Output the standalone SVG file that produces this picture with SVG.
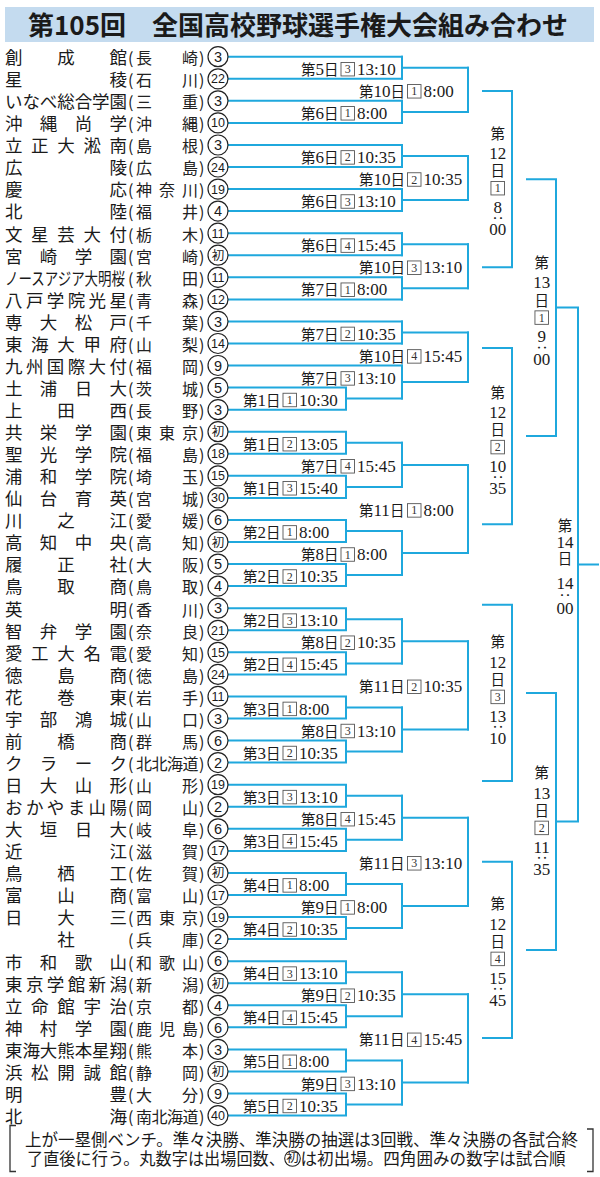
<svg xmlns="http://www.w3.org/2000/svg" width="600" height="1177" viewBox="0 0 600 1177">
<style>
.tm{font-family:"Noto Sans CJK JP",sans-serif;font-size:17.5px;fill:#1a1a1a}
.pf{font-family:"Noto Sans CJK JP",sans-serif;font-size:16px;fill:#222}
.cc{fill:#fff;stroke:#222;stroke-width:1.2}
.cn{font-family:"Liberation Sans",sans-serif;font-size:14.5px;text-anchor:middle;fill:#1a1a1a}
.cn2{font-family:"Liberation Sans",sans-serif;font-size:12.5px;text-anchor:middle;fill:#1a1a1a}
.ch{font-family:"Noto Sans CJK JP",sans-serif;font-size:12.5px;text-anchor:middle;fill:#1a1a1a}
.ln{fill:none;stroke:#1FA8DD;stroke-width:2;stroke-linecap:square}
.k{font-family:"Noto Sans CJK JP",sans-serif;font-size:14.5px;fill:#1a1a1a}
.d{font-family:"Liberation Serif",serif;font-size:17px;fill:#1a1a1a}
.bx{fill:#fff;stroke:#555;stroke-width:0.9}
.bd{font-family:"Liberation Serif",serif;font-size:12px;text-anchor:middle;fill:#333}
.v{text-anchor:middle}
.ft{font-family:"Noto Sans CJK JP",sans-serif;font-size:16.5px;fill:#1a1a1a}
.br{fill:none;stroke:#333;stroke-width:1.3}
</style>

<g id="title">
<rect x="5" y="7" width="589" height="35" fill="#C4DBEF"/>
<text x="28" y="35" font-family="Noto Sans CJK JP, sans-serif" font-weight="bold" font-size="26" fill="#1a1a1a" textLength="540" lengthAdjust="spacingAndGlyphs">第105回　全国高校野球選手権大会組み合わせ</text>
</g>

<g id="connectors" class="ln">
<path d="M228 56.7H402M228 78.8H402M228 100.8H402M228 122.9H402M228 145H402M228 167H402M228 189.1H402M228 211.1H402M228 233.2H402M228 255.2H402M228 277.3H402M228 299.4H402M228 321.4H402M228 343.5H402M228 365.5H402"/>
<path d="M228 387.6H346V409.7H228M346 398.6H402M228 431.7H346V453.8H228M346 442.8H402M228 475.8H346V497.9H228M346 486.9H402M228 519.9H346V542H228M346 531H402M228 564.1H346V586.1H228M346 575.1H402M228 608.2H346V630.3H228M346 619.2H402M228 652.3H346V674.4H228M346 663.4H402M228 696.4H346V718.5H228M346 707.5H402M228 740.6H346V762.6H228M346 751.6H402M228 784.7H346V806.7H228M346 795.7H402M228 828.8H346V850.9H228M346 839.8H402M228 872.9H346V895H228M346 884H402M228 917H346V939.1H228M346 928.1H402M228 961.2H346V983.2H228M346 972.2H402M228 1005.3H346V1027.3H228M346 1016.3H402M228 1049.4H346V1071.5H228M346 1060.4H402M228 1093.5H346V1115.6H228M346 1104.6H402"/>
<path d="M402 56.7V78.8M402 67.8H468M402 100.8V122.9M402 111.9H468M402 145V167M402 156H468M402 189.1V211.1M402 200.1H468M402 233.2V255.2M402 244.2H468M402 277.3V299.4M402 288.3H468M402 321.4V343.5M402 332.5H468M402 365.5V398.6M402 382.1H468M402 442.8V486.9M402 464.9H468M402 531V575.1M402 553.1H468M402 619.2V663.4M402 641.3H468M402 707.5V751.6M402 729.6H468M402 795.7V839.8M402 817.8H468M402 884V928.1M402 906H468M402 972.2V1016.3M402 994.3H468M402 1060.4V1104.6M402 1082.5H468"/>
<path d="M468 67.8V111.9M468 156V200.1M468 244.2V288.3M468 332.5V382.1M468 464.9V553.1M468 641.3V729.6M468 817.8V906M468 994.3V1082.5"/>
<path d="M483 91H512V267.3H483M483 347.9H512V524.2H483M483 604.8H512V781.1H483M483 861.7H512V1038H483"/>
<path d="M527 179.2H556V436.1H527M527 692.9H556V949.9H527"/>
<path d="M556 307.6H578V821.4H556M578 564.5H598"/>
</g>

<g id="teams">
<g id="team-0" transform="translate(0,56.7)"><text class="tm" x="5 57.25 109.5" y="7.3">創成館</text><text class="pf" x="128 136 182 199" y="7.3">(長崎)</text><circle class="cc" cx="218" r="10"/><text class="cn" x="218" y="5.2">3</text></g>
<g id="team-1" transform="translate(0,78.8)"><text class="tm" x="5 109.5" y="7.3">星稜</text><text class="pf" x="128 136 182 199" y="7.3">(石川)</text><circle class="cc" cx="218" r="10"/><text class="cn2" x="218" y="4.5">22</text></g>
<g id="team-2" transform="translate(0,100.8)"><text class="tm" x="5 22.4 39.8 57.3 74.7 92.1 109.5" y="7.3">いなべ総合学園</text><text class="pf" x="128 136 182 199" y="7.3">(三重)</text><circle class="cc" cx="218" r="10"/><text class="cn" x="218" y="5.2">3</text></g>
<g id="team-3" transform="translate(0,122.9)"><text class="tm" x="5 39.8 74.7 109.5" y="7.3">沖縄尚学</text><text class="pf" x="128 136 182 199" y="7.3">(沖縄)</text><circle class="cc" cx="218" r="10"/><text class="cn2" x="218" y="4.5">10</text></g>
<g id="team-4" transform="translate(0,145)"><text class="tm" x="5 31.1 57.3 83.4 109.5" y="7.3">立正大淞南</text><text class="pf" x="128 136 182 199" y="7.3">(島根)</text><circle class="cc" cx="218" r="10"/><text class="cn" x="218" y="5.2">3</text></g>
<g id="team-5" transform="translate(0,167)"><text class="tm" x="5 109.5" y="7.3">広陵</text><text class="pf" x="128 136 182 199" y="7.3">(広島)</text><circle class="cc" cx="218" r="10"/><text class="cn2" x="218" y="4.5">24</text></g>
<g id="team-6" transform="translate(0,189.1)"><text class="tm" x="5 109.5" y="7.3">慶応</text><text class="pf" x="128 136 159 182 199" y="7.3">(神奈川)</text><circle class="cc" cx="218" r="10"/><text class="cn2" x="218" y="4.5">19</text></g>
<g id="team-7" transform="translate(0,211.1)"><text class="tm" x="5 109.5" y="7.3">北陸</text><text class="pf" x="128 136 182 199" y="7.3">(福井)</text><circle class="cc" cx="218" r="10"/><text class="cn" x="218" y="5.2">4</text></g>
<g id="team-8" transform="translate(0,233.2)"><text class="tm" x="5 31.1 57.3 83.4 109.5" y="7.3">文星芸大付</text><text class="pf" x="128 136 182 199" y="7.3">(栃木)</text><circle class="cc" cx="218" r="10"/><text class="cn2" x="218" y="4.5">11</text></g>
<g id="team-9" transform="translate(0,255.2)"><text class="tm" x="5 39.8 74.7 109.5" y="7.3">宮崎学園</text><text class="pf" x="128 136 182 199" y="7.3">(宮崎)</text><circle class="cc" cx="218" r="10"/><text class="ch" x="218" y="4.5">初</text></g>
<g id="team-10" transform="translate(0,277.3)"><text class="tm" transform="translate(5 0) scale(0.77 1)" x="0" y="7.3">ノースアジア大明桜</text><text class="pf" x="128 136 182 199" y="7.3">(秋田)</text><circle class="cc" cx="218" r="10"/><text class="cn2" x="218" y="4.5">11</text></g>
<g id="team-11" transform="translate(0,299.4)"><text class="tm" x="5 25.9 46.8 67.7 88.6 109.5" y="7.3">八戸学院光星</text><text class="pf" x="128 136 182 199" y="7.3">(青森)</text><circle class="cc" cx="218" r="10"/><text class="cn2" x="218" y="4.5">12</text></g>
<g id="team-12" transform="translate(0,321.4)"><text class="tm" x="5 39.8 74.7 109.5" y="7.3">専大松戸</text><text class="pf" x="128 136 182 199" y="7.3">(千葉)</text><circle class="cc" cx="218" r="10"/><text class="cn" x="218" y="5.2">3</text></g>
<g id="team-13" transform="translate(0,343.5)"><text class="tm" x="5 31.1 57.3 83.4 109.5" y="7.3">東海大甲府</text><text class="pf" x="128 136 182 199" y="7.3">(山梨)</text><circle class="cc" cx="218" r="10"/><text class="cn2" x="218" y="4.5">14</text></g>
<g id="team-14" transform="translate(0,365.5)"><text class="tm" x="5 25.9 46.8 67.7 88.6 109.5" y="7.3">九州国際大付</text><text class="pf" x="128 136 182 199" y="7.3">(福岡)</text><circle class="cc" cx="218" r="10"/><text class="cn" x="218" y="5.2">9</text></g>
<g id="team-15" transform="translate(0,387.6)"><text class="tm" x="5 39.8 74.7 109.5" y="7.3">土浦日大</text><text class="pf" x="128 136 182 199" y="7.3">(茨城)</text><circle class="cc" cx="218" r="10"/><text class="cn" x="218" y="5.2">5</text></g>
<g id="team-16" transform="translate(0,409.7)"><text class="tm" x="5 57.25 109.5" y="7.3">上田西</text><text class="pf" x="128 136 182 199" y="7.3">(長野)</text><circle class="cc" cx="218" r="10"/><text class="cn" x="218" y="5.2">3</text></g>
<g id="team-17" transform="translate(0,431.7)"><text class="tm" x="5 39.8 74.7 109.5" y="7.3">共栄学園</text><text class="pf" x="128 136 159 182 199" y="7.3">(東東京)</text><circle class="cc" cx="218" r="10"/><text class="ch" x="218" y="4.5">初</text></g>
<g id="team-18" transform="translate(0,453.8)"><text class="tm" x="5 39.8 74.7 109.5" y="7.3">聖光学院</text><text class="pf" x="128 136 182 199" y="7.3">(福島)</text><circle class="cc" cx="218" r="10"/><text class="cn2" x="218" y="4.5">18</text></g>
<g id="team-19" transform="translate(0,475.8)"><text class="tm" x="5 39.8 74.7 109.5" y="7.3">浦和学院</text><text class="pf" x="128 136 182 199" y="7.3">(埼玉)</text><circle class="cc" cx="218" r="10"/><text class="cn2" x="218" y="4.5">15</text></g>
<g id="team-20" transform="translate(0,497.9)"><text class="tm" x="5 39.8 74.7 109.5" y="7.3">仙台育英</text><text class="pf" x="128 136 182 199" y="7.3">(宮城)</text><circle class="cc" cx="218" r="10"/><text class="cn2" x="218" y="4.5">30</text></g>
<g id="team-21" transform="translate(0,519.9)"><text class="tm" x="5 57.25 109.5" y="7.3">川之江</text><text class="pf" x="128 136 182 199" y="7.3">(愛媛)</text><circle class="cc" cx="218" r="10"/><text class="cn" x="218" y="5.2">6</text></g>
<g id="team-22" transform="translate(0,542)"><text class="tm" x="5 39.8 74.7 109.5" y="7.3">高知中央</text><text class="pf" x="128 136 182 199" y="7.3">(高知)</text><circle class="cc" cx="218" r="10"/><text class="ch" x="218" y="4.5">初</text></g>
<g id="team-23" transform="translate(0,564.1)"><text class="tm" x="5 57.25 109.5" y="7.3">履正社</text><text class="pf" x="128 136 182 199" y="7.3">(大阪)</text><circle class="cc" cx="218" r="10"/><text class="cn" x="218" y="5.2">5</text></g>
<g id="team-24" transform="translate(0,586.1)"><text class="tm" x="5 57.25 109.5" y="7.3">鳥取商</text><text class="pf" x="128 136 182 199" y="7.3">(鳥取)</text><circle class="cc" cx="218" r="10"/><text class="cn" x="218" y="5.2">4</text></g>
<g id="team-25" transform="translate(0,608.2)"><text class="tm" x="5 109.5" y="7.3">英明</text><text class="pf" x="128 136 182 199" y="7.3">(香川)</text><circle class="cc" cx="218" r="10"/><text class="cn" x="218" y="5.2">3</text></g>
<g id="team-26" transform="translate(0,630.3)"><text class="tm" x="5 39.8 74.7 109.5" y="7.3">智弁学園</text><text class="pf" x="128 136 182 199" y="7.3">(奈良)</text><circle class="cc" cx="218" r="10"/><text class="cn2" x="218" y="4.5">21</text></g>
<g id="team-27" transform="translate(0,652.3)"><text class="tm" x="5 31.1 57.3 83.4 109.5" y="7.3">愛工大名電</text><text class="pf" x="128 136 182 199" y="7.3">(愛知)</text><circle class="cc" cx="218" r="10"/><text class="cn2" x="218" y="4.5">15</text></g>
<g id="team-28" transform="translate(0,674.4)"><text class="tm" x="5 57.25 109.5" y="7.3">徳島商</text><text class="pf" x="128 136 182 199" y="7.3">(徳島)</text><circle class="cc" cx="218" r="10"/><text class="cn2" x="218" y="4.5">24</text></g>
<g id="team-29" transform="translate(0,696.4)"><text class="tm" x="5 57.25 109.5" y="7.3">花巻東</text><text class="pf" x="128 136 182 199" y="7.3">(岩手)</text><circle class="cc" cx="218" r="10"/><text class="cn2" x="218" y="4.5">11</text></g>
<g id="team-30" transform="translate(0,718.5)"><text class="tm" x="5 39.8 74.7 109.5" y="7.3">宇部鴻城</text><text class="pf" x="128 136 182 199" y="7.3">(山口)</text><circle class="cc" cx="218" r="10"/><text class="cn" x="218" y="5.2">3</text></g>
<g id="team-31" transform="translate(0,740.6)"><text class="tm" x="5 57.25 109.5" y="7.3">前橋商</text><text class="pf" x="128 136 182 199" y="7.3">(群馬)</text><circle class="cc" cx="218" r="10"/><text class="cn" x="218" y="5.2">6</text></g>
<g id="team-32" transform="translate(0,762.6)"><text class="tm" x="5 39.8 74.7 109.5" y="7.3">クラーク</text><text class="pf" x="128 136 151.5 167 182.5 199" y="7.3">(北北海道)</text><circle class="cc" cx="218" r="10"/><text class="cn" x="218" y="5.2">2</text></g>
<g id="team-33" transform="translate(0,784.7)"><text class="tm" x="5 39.8 74.7 109.5" y="7.3">日大山形</text><text class="pf" x="128 136 182 199" y="7.3">(山形)</text><circle class="cc" cx="218" r="10"/><text class="cn2" x="218" y="4.5">19</text></g>
<g id="team-34" transform="translate(0,806.7)"><text class="tm" x="5 25.9 46.8 67.7 88.6 109.5" y="7.3">おかやま山陽</text><text class="pf" x="128 136 182 199" y="7.3">(岡山)</text><circle class="cc" cx="218" r="10"/><text class="cn" x="218" y="5.2">2</text></g>
<g id="team-35" transform="translate(0,828.8)"><text class="tm" x="5 39.8 74.7 109.5" y="7.3">大垣日大</text><text class="pf" x="128 136 182 199" y="7.3">(岐阜)</text><circle class="cc" cx="218" r="10"/><text class="cn" x="218" y="5.2">6</text></g>
<g id="team-36" transform="translate(0,850.9)"><text class="tm" x="5 109.5" y="7.3">近江</text><text class="pf" x="128 136 182 199" y="7.3">(滋賀)</text><circle class="cc" cx="218" r="10"/><text class="cn2" x="218" y="4.5">17</text></g>
<g id="team-37" transform="translate(0,872.9)"><text class="tm" x="5 57.25 109.5" y="7.3">鳥栖工</text><text class="pf" x="128 136 182 199" y="7.3">(佐賀)</text><circle class="cc" cx="218" r="10"/><text class="ch" x="218" y="4.5">初</text></g>
<g id="team-38" transform="translate(0,895)"><text class="tm" x="5 57.25 109.5" y="7.3">富山商</text><text class="pf" x="128 136 182 199" y="7.3">(富山)</text><circle class="cc" cx="218" r="10"/><text class="cn2" x="218" y="4.5">17</text></g>
<g id="team-39" transform="translate(0,917)"><text class="tm" x="5 57.25 109.5" y="7.3">日大三</text><text class="pf" x="128 136 159 182 199" y="7.3">(西東京)</text><circle class="cc" cx="218" r="10"/><text class="cn2" x="218" y="4.5">19</text></g>
<g id="team-40" transform="translate(0,939.1)"><text class="tm" x="57.25" y="7.3">社</text><text class="pf" x="128 136 182 199" y="7.3">(兵庫)</text><circle class="cc" cx="218" r="10"/><text class="cn" x="218" y="5.2">2</text></g>
<g id="team-41" transform="translate(0,961.2)"><text class="tm" x="5 39.8 74.7 109.5" y="7.3">市和歌山</text><text class="pf" x="128 136 159 182 199" y="7.3">(和歌山)</text><circle class="cc" cx="218" r="10"/><text class="cn" x="218" y="5.2">6</text></g>
<g id="team-42" transform="translate(0,983.2)"><text class="tm" x="5 25.9 46.8 67.7 88.6 109.5" y="7.3">東京学館新潟</text><text class="pf" x="128 136 182 199" y="7.3">(新潟)</text><circle class="cc" cx="218" r="10"/><text class="ch" x="218" y="4.5">初</text></g>
<g id="team-43" transform="translate(0,1005.3)"><text class="tm" x="5 31.1 57.3 83.4 109.5" y="7.3">立命館宇治</text><text class="pf" x="128 136 182 199" y="7.3">(京都)</text><circle class="cc" cx="218" r="10"/><text class="cn" x="218" y="5.2">4</text></g>
<g id="team-44" transform="translate(0,1027.3)"><text class="tm" x="5 39.8 74.7 109.5" y="7.3">神村学園</text><text class="pf" x="128 136 159 182 199" y="7.3">(鹿児島)</text><circle class="cc" cx="218" r="10"/><text class="cn" x="218" y="5.2">6</text></g>
<g id="team-45" transform="translate(0,1049.4)"><text class="tm" x="5 22.4 39.8 57.3 74.7 92.1 109.5" y="7.3">東海大熊本星翔</text><text class="pf" x="128 136 182 199" y="7.3">(熊本)</text><circle class="cc" cx="218" r="10"/><text class="cn" x="218" y="5.2">3</text></g>
<g id="team-46" transform="translate(0,1071.5)"><text class="tm" x="5 31.1 57.3 83.4 109.5" y="7.3">浜松開誠館</text><text class="pf" x="128 136 182 199" y="7.3">(静岡)</text><circle class="cc" cx="218" r="10"/><text class="ch" x="218" y="4.5">初</text></g>
<g id="team-47" transform="translate(0,1093.5)"><text class="tm" x="5 109.5" y="7.3">明豊</text><text class="pf" x="128 136 182 199" y="7.3">(大分)</text><circle class="cc" cx="218" r="10"/><text class="cn" x="218" y="5.2">9</text></g>
<g id="team-48" transform="translate(0,1115.6)"><text class="tm" x="5 109.5" y="7.3">北海</text><text class="pf" x="128 136 151.5 167 182.5 199" y="7.3">(南北海道)</text><circle class="cc" cx="218" r="10"/><text class="cn2" x="218" y="4.5">40</text></g>
</g>

<g id="round1">
<g id="g-1-1"><text class="k" x="243" y="405.6">第<tspan class="d">1</tspan>日</text><rect class="bx" x="283" y="393.25" width="13.5" height="13.5"/><text class="bd" x="289.75" y="404">1</text><text class="d" x="299" y="405.6">10:30</text></g>
<g id="g-1-2"><text class="k" x="243" y="449.8">第<tspan class="d">1</tspan>日</text><rect class="bx" x="283" y="437.45" width="13.5" height="13.5"/><text class="bd" x="289.75" y="448.2">2</text><text class="d" x="299" y="449.8">13:05</text></g>
<g id="g-1-3"><text class="k" x="243" y="493.9">第<tspan class="d">1</tspan>日</text><rect class="bx" x="283" y="481.55" width="13.5" height="13.5"/><text class="bd" x="289.75" y="492.3">3</text><text class="d" x="299" y="493.9">15:40</text></g>
<g id="g-2-1"><text class="k" x="243" y="538">第<tspan class="d">2</tspan>日</text><rect class="bx" x="283" y="525.65" width="13.5" height="13.5"/><text class="bd" x="289.75" y="536.4">1</text><text class="d" x="299" y="538">8:00</text></g>
<g id="g-2-2"><text class="k" x="243" y="582.1">第<tspan class="d">2</tspan>日</text><rect class="bx" x="283" y="569.75" width="13.5" height="13.5"/><text class="bd" x="289.75" y="580.5">2</text><text class="d" x="299" y="582.1">10:35</text></g>
<g id="g-2-3"><text class="k" x="243" y="626.2">第<tspan class="d">2</tspan>日</text><rect class="bx" x="283" y="613.85" width="13.5" height="13.5"/><text class="bd" x="289.75" y="624.6">3</text><text class="d" x="299" y="626.2">13:10</text></g>
<g id="g-2-4"><text class="k" x="243" y="670.4">第<tspan class="d">2</tspan>日</text><rect class="bx" x="283" y="658.05" width="13.5" height="13.5"/><text class="bd" x="289.75" y="668.8">4</text><text class="d" x="299" y="670.4">15:45</text></g>
<g id="g-3-1"><text class="k" x="243" y="714.5">第<tspan class="d">3</tspan>日</text><rect class="bx" x="283" y="702.15" width="13.5" height="13.5"/><text class="bd" x="289.75" y="712.9">1</text><text class="d" x="299" y="714.5">8:00</text></g>
<g id="g-3-2"><text class="k" x="243" y="758.6">第<tspan class="d">3</tspan>日</text><rect class="bx" x="283" y="746.25" width="13.5" height="13.5"/><text class="bd" x="289.75" y="757">2</text><text class="d" x="299" y="758.6">10:35</text></g>
<g id="g-3-3"><text class="k" x="243" y="802.7">第<tspan class="d">3</tspan>日</text><rect class="bx" x="283" y="790.35" width="13.5" height="13.5"/><text class="bd" x="289.75" y="801.1">3</text><text class="d" x="299" y="802.7">13:10</text></g>
<g id="g-3-4"><text class="k" x="243" y="846.8">第<tspan class="d">3</tspan>日</text><rect class="bx" x="283" y="834.45" width="13.5" height="13.5"/><text class="bd" x="289.75" y="845.2">4</text><text class="d" x="299" y="846.8">15:45</text></g>
<g id="g-4-1"><text class="k" x="243" y="891">第<tspan class="d">4</tspan>日</text><rect class="bx" x="283" y="878.65" width="13.5" height="13.5"/><text class="bd" x="289.75" y="889.4">1</text><text class="d" x="299" y="891">8:00</text></g>
<g id="g-4-2"><text class="k" x="243" y="935.1">第<tspan class="d">4</tspan>日</text><rect class="bx" x="283" y="922.75" width="13.5" height="13.5"/><text class="bd" x="289.75" y="933.5">2</text><text class="d" x="299" y="935.1">10:35</text></g>
<g id="g-4-3"><text class="k" x="243" y="979.2">第<tspan class="d">4</tspan>日</text><rect class="bx" x="283" y="966.85" width="13.5" height="13.5"/><text class="bd" x="289.75" y="977.6">3</text><text class="d" x="299" y="979.2">13:10</text></g>
<g id="g-4-4"><text class="k" x="243" y="1023.3">第<tspan class="d">4</tspan>日</text><rect class="bx" x="283" y="1010.95" width="13.5" height="13.5"/><text class="bd" x="289.75" y="1021.7">4</text><text class="d" x="299" y="1023.3">15:45</text></g>
<g id="g-5-1"><text class="k" x="243" y="1067.4">第<tspan class="d">5</tspan>日</text><rect class="bx" x="283" y="1055.05" width="13.5" height="13.5"/><text class="bd" x="289.75" y="1065.8">1</text><text class="d" x="299" y="1067.4">8:00</text></g>
<g id="g-5-2"><text class="k" x="243" y="1111.6">第<tspan class="d">5</tspan>日</text><rect class="bx" x="283" y="1099.25" width="13.5" height="13.5"/><text class="bd" x="289.75" y="1110">2</text><text class="d" x="299" y="1111.6">10:35</text></g>
</g>

<g id="round2">
<g id="g-5-3"><text class="k" x="301" y="74.8">第<tspan class="d">5</tspan>日</text><rect class="bx" x="341" y="62.45" width="13.5" height="13.5"/><text class="bd" x="347.75" y="73.2">3</text><text class="d" x="357" y="74.8">13:10</text></g>
<g id="g-6-1"><text class="k" x="301" y="118.9">第<tspan class="d">6</tspan>日</text><rect class="bx" x="341" y="106.55" width="13.5" height="13.5"/><text class="bd" x="347.75" y="117.3">1</text><text class="d" x="357" y="118.9">8:00</text></g>
<g id="g-6-2"><text class="k" x="301" y="163">第<tspan class="d">6</tspan>日</text><rect class="bx" x="341" y="150.65" width="13.5" height="13.5"/><text class="bd" x="347.75" y="161.4">2</text><text class="d" x="357" y="163">10:35</text></g>
<g id="g-6-3"><text class="k" x="301" y="207.1">第<tspan class="d">6</tspan>日</text><rect class="bx" x="341" y="194.75" width="13.5" height="13.5"/><text class="bd" x="347.75" y="205.5">3</text><text class="d" x="357" y="207.1">13:10</text></g>
<g id="g-6-4"><text class="k" x="301" y="251.2">第<tspan class="d">6</tspan>日</text><rect class="bx" x="341" y="238.85" width="13.5" height="13.5"/><text class="bd" x="347.75" y="249.6">4</text><text class="d" x="357" y="251.2">15:45</text></g>
<g id="g-7-1"><text class="k" x="301" y="295.3">第<tspan class="d">7</tspan>日</text><rect class="bx" x="341" y="282.95" width="13.5" height="13.5"/><text class="bd" x="347.75" y="293.7">1</text><text class="d" x="357" y="295.3">8:00</text></g>
<g id="g-7-2"><text class="k" x="301" y="339.5">第<tspan class="d">7</tspan>日</text><rect class="bx" x="341" y="327.15" width="13.5" height="13.5"/><text class="bd" x="347.75" y="337.9">2</text><text class="d" x="357" y="339.5">10:35</text></g>
<g id="g-7-3"><text class="k" x="301" y="384">第<tspan class="d">7</tspan>日</text><rect class="bx" x="341" y="371.65" width="13.5" height="13.5"/><text class="bd" x="347.75" y="382.4">3</text><text class="d" x="357" y="384">13:10</text></g>
<g id="g-7-4"><text class="k" x="301" y="471.9">第<tspan class="d">7</tspan>日</text><rect class="bx" x="341" y="459.55" width="13.5" height="13.5"/><text class="bd" x="347.75" y="470.3">4</text><text class="d" x="357" y="471.9">15:45</text></g>
<g id="g-8-1"><text class="k" x="301" y="560.1">第<tspan class="d">8</tspan>日</text><rect class="bx" x="341" y="547.75" width="13.5" height="13.5"/><text class="bd" x="347.75" y="558.5">1</text><text class="d" x="357" y="560.1">8:00</text></g>
<g id="g-8-2"><text class="k" x="301" y="648.3">第<tspan class="d">8</tspan>日</text><rect class="bx" x="341" y="635.95" width="13.5" height="13.5"/><text class="bd" x="347.75" y="646.7">2</text><text class="d" x="357" y="648.3">10:35</text></g>
<g id="g-8-3"><text class="k" x="301" y="736.6">第<tspan class="d">8</tspan>日</text><rect class="bx" x="341" y="724.25" width="13.5" height="13.5"/><text class="bd" x="347.75" y="735">3</text><text class="d" x="357" y="736.6">13:10</text></g>
<g id="g-8-4"><text class="k" x="301" y="824.8">第<tspan class="d">8</tspan>日</text><rect class="bx" x="341" y="812.45" width="13.5" height="13.5"/><text class="bd" x="347.75" y="823.2">4</text><text class="d" x="357" y="824.8">15:45</text></g>
<g id="g-9-1"><text class="k" x="301" y="913">第<tspan class="d">9</tspan>日</text><rect class="bx" x="341" y="900.65" width="13.5" height="13.5"/><text class="bd" x="347.75" y="911.4">1</text><text class="d" x="357" y="913">8:00</text></g>
<g id="g-9-2"><text class="k" x="301" y="1001.3">第<tspan class="d">9</tspan>日</text><rect class="bx" x="341" y="988.95" width="13.5" height="13.5"/><text class="bd" x="347.75" y="999.7">2</text><text class="d" x="357" y="1001.3">10:35</text></g>
<g id="g-9-3"><text class="k" x="301" y="1089.5">第<tspan class="d">9</tspan>日</text><rect class="bx" x="341" y="1077.15" width="13.5" height="13.5"/><text class="bd" x="347.75" y="1087.9">3</text><text class="d" x="357" y="1089.5">13:10</text></g>
</g>

<g id="round3">
<g id="g-10-1"><text class="k" x="359" y="96.9">第<tspan class="d">10</tspan>日</text><rect class="bx" x="407.5" y="84.55" width="13.5" height="13.5"/><text class="bd" x="414.25" y="95.3">1</text><text class="d" x="423.5" y="96.9">8:00</text></g>
<g id="g-10-2"><text class="k" x="359" y="185.1">第<tspan class="d">10</tspan>日</text><rect class="bx" x="407.5" y="172.75" width="13.5" height="13.5"/><text class="bd" x="414.25" y="183.5">2</text><text class="d" x="423.5" y="185.1">10:35</text></g>
<g id="g-10-3"><text class="k" x="359" y="273.3">第<tspan class="d">10</tspan>日</text><rect class="bx" x="407.5" y="260.95" width="13.5" height="13.5"/><text class="bd" x="414.25" y="271.7">3</text><text class="d" x="423.5" y="273.3">13:10</text></g>
<g id="g-10-4"><text class="k" x="359" y="362">第<tspan class="d">10</tspan>日</text><rect class="bx" x="407.5" y="349.65" width="13.5" height="13.5"/><text class="bd" x="414.25" y="360.4">4</text><text class="d" x="423.5" y="362">15:45</text></g>
<g id="g-11-1"><text class="k" x="359" y="516">第<tspan class="d">11</tspan>日</text><rect class="bx" x="407.5" y="503.65" width="13.5" height="13.5"/><text class="bd" x="414.25" y="514.4">1</text><text class="d" x="423.5" y="516">8:00</text></g>
<g id="g-11-2"><text class="k" x="359" y="692.4">第<tspan class="d">11</tspan>日</text><rect class="bx" x="407.5" y="680.05" width="13.5" height="13.5"/><text class="bd" x="414.25" y="690.8">2</text><text class="d" x="423.5" y="692.4">10:35</text></g>
<g id="g-11-3"><text class="k" x="359" y="868.9">第<tspan class="d">11</tspan>日</text><rect class="bx" x="407.5" y="856.55" width="13.5" height="13.5"/><text class="bd" x="414.25" y="867.3">3</text><text class="d" x="423.5" y="868.9">13:10</text></g>
<g id="g-11-4"><text class="k" x="359" y="1045.4">第<tspan class="d">11</tspan>日</text><rect class="bx" x="407.5" y="1033.05" width="13.5" height="13.5"/><text class="bd" x="414.25" y="1043.8">4</text><text class="d" x="423.5" y="1045.4">15:45</text></g>
</g>

<g id="quarterfinals">
<g id="qf-1"><text class="k v" x="497.7" y="138.7">第</text><text class="d v" x="497.7" y="158.8">12</text><text class="k v" x="497.7" y="176.2">日</text><rect class="bx" x="490.95" y="181.45" width="13.5" height="13.5"/><text class="bd" x="497.7" y="192.2">1</text><text class="d v" x="497.7" y="212.8">8</text><text class="d v" transform="translate(497.7 218.2) rotate(90)" y="3.9">:</text><text class="d v" x="497.7" y="235.3">00</text></g>
<g id="qf-2"><text class="k v" x="497.7" y="397.6">第</text><text class="d v" x="497.7" y="417.7">12</text><text class="k v" x="497.7" y="435.1">日</text><rect class="bx" x="490.95" y="440.35" width="13.5" height="13.5"/><text class="bd" x="497.7" y="451.1">2</text><text class="d v" x="497.7" y="471.7">10</text><text class="d v" transform="translate(497.7 477.1) rotate(90)" y="3.9">:</text><text class="d v" x="497.7" y="494.2">35</text></g>
<g id="qf-3"><text class="k v" x="497.7" y="647.4">第</text><text class="d v" x="497.7" y="667.5">12</text><text class="k v" x="497.7" y="684.9">日</text><rect class="bx" x="490.95" y="690.15" width="13.5" height="13.5"/><text class="bd" x="497.7" y="700.9">3</text><text class="d v" x="497.7" y="721.5">13</text><text class="d v" transform="translate(497.7 726.9) rotate(90)" y="3.9">:</text><text class="d v" x="497.7" y="744">10</text></g>
<g id="qf-4"><text class="k v" x="497.7" y="909.4">第</text><text class="d v" x="497.7" y="929.5">12</text><text class="k v" x="497.7" y="946.9">日</text><rect class="bx" x="490.95" y="952.15" width="13.5" height="13.5"/><text class="bd" x="497.7" y="962.9">4</text><text class="d v" x="497.7" y="983.5">15</text><text class="d v" transform="translate(497.7 988.9) rotate(90)" y="3.9">:</text><text class="d v" x="497.7" y="1006">45</text></g>
</g>

<g id="semifinals">
<g id="sf-1"><text class="k v" x="541.7" y="268.1">第</text><text class="d v" x="541.7" y="288.2">13</text><text class="k v" x="541.7" y="305.6">日</text><rect class="bx" x="534.95" y="310.85" width="13.5" height="13.5"/><text class="bd" x="541.7" y="321.6">1</text><text class="d v" x="541.7" y="342.2">9</text><text class="d v" transform="translate(541.7 347.6) rotate(90)" y="3.9">:</text><text class="d v" x="541.7" y="364.7">00</text></g>
<g id="sf-2"><text class="k v" x="541.7" y="778.4">第</text><text class="d v" x="541.7" y="798.5">13</text><text class="k v" x="541.7" y="815.9">日</text><rect class="bx" x="534.95" y="821.15" width="13.5" height="13.5"/><text class="bd" x="541.7" y="831.9">2</text><text class="d v" x="541.7" y="852.5">11</text><text class="d v" transform="translate(541.7 857.9) rotate(90)" y="3.9">:</text><text class="d v" x="541.7" y="875">35</text></g>
</g>

<g id="final">
<text class="k v" x="565" y="530.5">第</text><text class="d v" x="565" y="548.1">14</text><text class="k v" x="565" y="564">日</text><text class="d v" x="565" y="588.9">14</text><text class="d v" transform="translate(565 595) rotate(90)" y="3.9">:</text><text class="d v" x="565" y="613.9">00</text>
</g>

<g id="footer">
<path class="br" d="M16 1125.5H10V1171.5H16"/>
<path class="br" d="M587 1129H593V1171.5H587"/>
<text class="ft" x="25" y="1146.3" textLength="553" lengthAdjust="spacingAndGlyphs">上が一塁側ベンチ。準々決勝、準決勝の抽選は3回戦、準々決勝の各試合終</text>
<text class="ft" x="27" y="1165" textLength="258" lengthAdjust="spacingAndGlyphs">了直後に行う。丸数字は出場回数、</text>
<circle cx="292.5" cy="1158.5" r="7.8" fill="#fff" stroke="#222" stroke-width="1.1"/>
<text class="ch" x="292.5" y="1162.4" font-size="10.5">初</text>
<text class="ft" x="300.5" y="1165" textLength="265" lengthAdjust="spacingAndGlyphs">は初出場。四角囲みの数字は試合順</text>
</g>
</svg>
